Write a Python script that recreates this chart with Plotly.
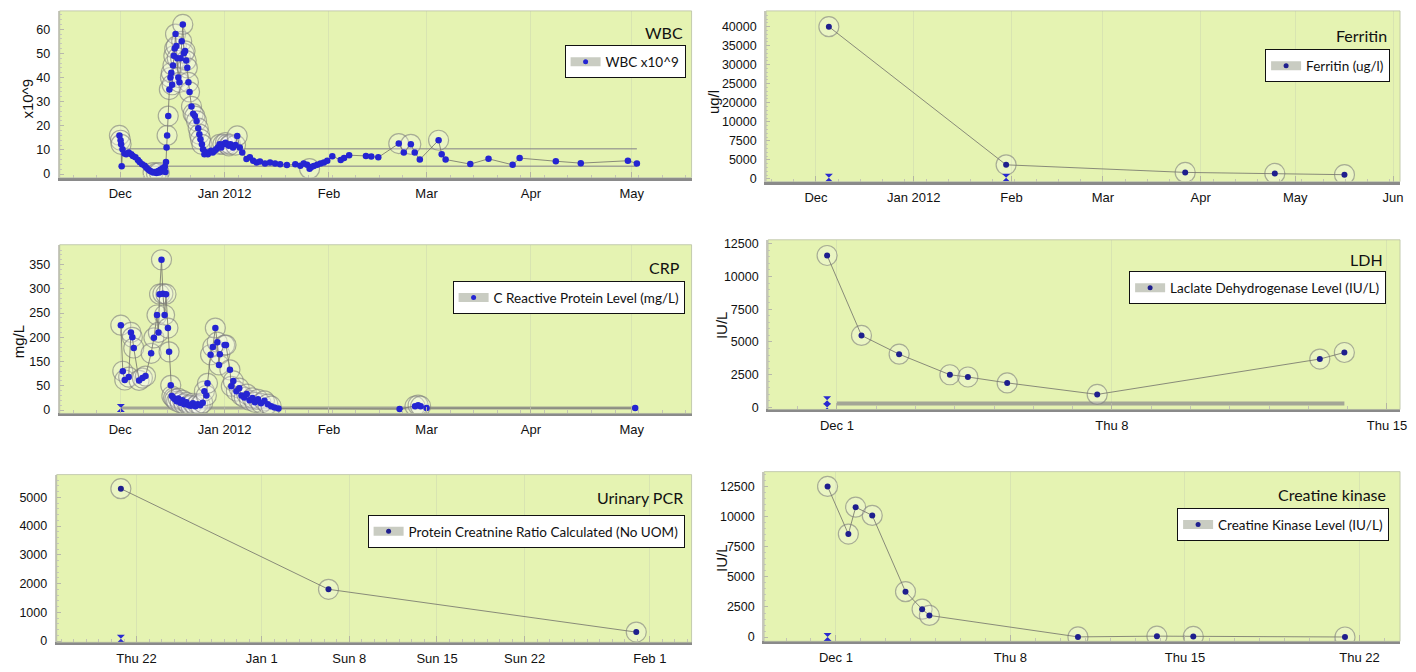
import plotly.graph_objects as go

W, H = 1416, 672

# ---------------- data ----------------
wbc_dates = [
    "2011-11-30 18:00", "2011-12-01 02:00", "2011-12-01 06:00", "2011-12-01 10:00", "2011-12-01 16:00",
    "2011-12-02 06:00", "2011-12-02 18:00", "2011-12-03 12:00", "2011-12-04 06:00", "2011-12-04 18:00",
    "2011-12-05 12:00", "2011-12-06 06:00", "2011-12-06 18:00", "2011-12-07 12:00", "2011-12-08 06:00",
    "2011-12-08 18:00", "2011-12-09 06:00", "2011-12-09 18:00", "2011-12-10 06:00", "2011-12-10 18:00",
    "2011-12-11 06:00", "2011-12-11 18:00", "2011-12-12 06:00", "2011-12-12 14:00", "2011-12-12 22:00",
    "2011-12-13 06:00", "2011-12-13 14:00", "2011-12-13 22:00", "2011-12-14 06:00", "2011-12-14 10:00",
    "2011-12-14 14:00", "2011-12-14 18:00", "2011-12-14 22:00", "2011-12-15 06:00", "2011-12-15 14:00",
    "2011-12-15 22:00", "2011-12-16 04:00", "2011-12-16 10:00", "2011-12-16 16:00", "2011-12-16 22:00",
    "2011-12-17 04:00", "2011-12-17 10:00", "2011-12-17 16:00", "2011-12-17 22:00", "2011-12-18 06:00",
    "2011-12-18 14:00", "2011-12-18 22:00", "2011-12-19 06:00", "2011-12-19 14:00", "2011-12-19 22:00",
    "2011-12-20 06:00", "2011-12-20 14:00", "2011-12-20 22:00", "2011-12-21 06:00", "2011-12-21 14:00",
    "2011-12-22 04:00", "2011-12-22 16:00", "2011-12-23 04:00", "2011-12-23 16:00", "2011-12-24 04:00",
    "2011-12-24 12:00", "2011-12-24 20:00", "2011-12-25 06:00", "2011-12-25 14:00", "2011-12-26 00:00",
    "2011-12-26 12:00", "2011-12-27 00:00", "2011-12-27 12:00", "2011-12-28 00:00", "2011-12-28 12:00",
    "2011-12-29 00:00", "2011-12-29 12:00", "2011-12-30 00:00", "2011-12-30 12:00", "2011-12-31 00:00",
    "2011-12-31 12:00", "2012-01-01 06:00", "2012-01-01 18:00", "2012-01-02 06:00", "2012-01-02 18:00",
    "2012-01-03 12:00", "2012-01-04 06:00", "2012-01-04 18:00", "2012-01-05 12:00", "2012-01-06 06:00",
    "2012-01-07 12:00", "2012-01-08 12:00", "2012-01-09 12:00", "2012-01-10 12:00", "2012-01-11 12:00",
    "2012-01-13 00:00", "2012-01-14 12:00", "2012-01-16 00:00", "2012-01-17 12:00", "2012-01-19 12:00",
    "2012-01-22 00:00", "2012-01-23 12:00", "2012-01-24 12:00", "2012-01-25 12:00", "2012-01-26 06:00",
    "2012-01-26 18:00", "2012-01-27 12:00", "2012-01-28 12:00", "2012-01-29 12:00", "2012-01-30 12:00",
    "2012-01-31 12:00", "2012-02-02 00:00", "2012-02-04 12:00", "2012-02-05 12:00", "2012-02-07 00:00",
    "2012-02-12 00:00", "2012-02-13 14:00", "2012-02-15 16:00", "2012-02-21 18:00", "2012-02-23 06:00",
    "2012-02-25 08:00", "2012-02-26 12:00", "2012-02-28 00:00", "2012-03-04 14:00", "2012-03-05 12:00",
    "2012-03-06 16:00", "2012-03-14 00:00", "2012-03-19 10:00", "2012-03-26 14:00", "2012-03-28 16:00",
    "2012-04-08 10:00", "2012-04-15 20:00", "2012-04-29 20:00", "2012-05-02 12:00",
]
wbc_values = [
    16.0, 14.0, 12.3, 3.2, 10.3,
    8.5, 8.2, 8.9, 8.2, 7.5,
    6.9, 5.8, 5.0, 4.0, 3.4,
    2.6, 2.0, 1.4, 1.0, 0.6,
    0.8, 0.4, 1.2, 0.6, 1.8,
    1.0, 2.4, 1.5, 3.0, 0.8,
    5.0, 11.0, 16.0, 24.0, 35.0,
    40.0, 42.0, 37.0, 45.0, 49.0,
    52.0, 58.0, 53.0, 48.0, 40.0,
    38.0, 48.0, 55.0, 62.0, 50.0,
    51.0, 47.0, 44.0, 38.0, 34.0,
    28.0, 25.0, 24.0, 22.0, 19.0,
    16.5, 14.4, 12.3, 10.3, 8.2,
    9.0, 8.2, 8.9, 9.6, 8.9,
    9.6, 10.3, 11.0, 12.3, 11.0,
    12.3, 13.0, 12.3, 11.7, 12.3,
    11.0, 12.0, 15.8, 11.0, 8.9,
    6.2, 6.9, 5.5, 4.8, 5.2,
    4.4, 4.8, 4.4, 4.0, 3.7,
    4.0, 3.4, 4.4, 3.8, 2.2,
    2.9, 3.3, 3.8, 4.4, 4.8,
    5.5, 7.4, 5.8, 6.6, 7.8,
    7.5, 7.3, 6.9, 12.6, 8.9,
    12.3, 8.9, 6.0, 14.0, 8.2,
    6.0, 4.1, 6.3, 3.8, 6.6,
    5.3, 4.5, 5.5, 4.4,
]
wbc_ref_dates = ["2011-11-30 12:00", "2012-05-02 12:00"]
wbc_ref_upper = [10.5, 10.5]
wbc_ref_lower = [3.2, 3.2]

ferritin_dates = ["2011-12-05 02:00", "2012-01-30 07:00", "2012-03-27 02:00", "2012-04-24 12:00", "2012-05-16 14:00"]
ferritin_values = [40000, 3700, 1710, 1450, 1110]
ferritin_sample_dates = ["2011-12-05 02:00", "2012-01-30 07:00"]
ferritin_sample_values = [300, 300]

crp_dates = [
    "2011-12-01 04:00", "2011-12-01 18:00", "2011-12-02 08:00", "2011-12-03 12:00", "2011-12-04 04:00",
    "2011-12-04 14:00", "2011-12-05 00:00", "2011-12-06 14:00", "2011-12-07 14:00", "2011-12-08 12:00",
    "2011-12-10 04:00", "2011-12-11 00:00", "2011-12-11 22:00", "2011-12-12 08:00", "2011-12-12 16:00",
    "2011-12-13 06:00", "2011-12-13 16:00", "2011-12-14 04:00", "2011-12-14 14:00", "2011-12-15 04:00",
    "2011-12-15 12:00", "2011-12-16 00:00", "2011-12-16 08:00", "2011-12-16 20:00", "2011-12-17 06:00",
    "2011-12-17 18:00", "2011-12-18 06:00", "2011-12-18 20:00", "2011-12-19 12:00", "2011-12-20 00:00",
    "2011-12-20 16:00", "2011-12-21 08:00", "2011-12-22 00:00", "2011-12-22 14:00", "2011-12-23 08:00",
    "2011-12-24 00:00", "2011-12-24 18:00", "2011-12-25 12:00", "2011-12-26 00:00", "2011-12-26 14:00",
    "2011-12-26 22:00", "2011-12-27 20:00", "2011-12-28 12:00", "2011-12-29 06:00", "2011-12-29 20:00",
    "2011-12-30 08:00", "2011-12-30 14:00", "2012-01-01 00:00", "2012-01-01 10:00", "2012-01-02 14:00",
    "2012-01-03 00:00", "2012-01-03 14:00", "2012-01-04 12:00", "2012-01-05 08:00", "2012-01-06 00:00",
    "2012-01-06 20:00", "2012-01-07 14:00", "2012-01-08 10:00", "2012-01-09 06:00", "2012-01-10 00:00",
    "2012-01-10 22:00", "2012-01-11 20:00", "2012-01-12 20:00", "2012-01-13 20:00", "2012-01-14 20:00",
    "2012-01-15 20:00", "2012-01-17 00:00", "2012-02-22 00:00", "2012-02-26 14:00", "2012-02-27 12:00",
    "2012-02-28 06:00", "2012-03-01 00:00", "2012-05-02 00:00",
]
crp_values = [
    175, 80, 62, 68, 160,
    150, 128, 61, 66, 70,
    117, 149, 196, 160, 239,
    310, 240, 196, 239, 169,
    120, 51, 29, 25, 22,
    18, 24, 15, 20, 12,
    16, 10, 9, 14, 8,
    12, 10, 15, 39, 30,
    55, 114, 130, 169, 140,
    93, 115, 134, 134, 83,
    49, 60, 39, 45, 30,
    26, 33, 20, 25, 16,
    22, 14, 19, 12, 8,
    5, 3, 2, 8, 10,
    8, 4, 4,
]
crp_ref_dates = ["2011-12-01 00:00", "2012-05-02 00:00"]
crp_ref_level = [4, 4]
crp_sample_dates = ["2011-12-01 04:00"]
crp_sample_values = [4]

ldh_dates = ["2011-11-30 18:00", "2011-12-01 15:00", "2011-12-02 14:00", "2011-12-03 21:00", "2011-12-04 08:00",
             "2011-12-05 08:00", "2011-12-07 15:00", "2011-12-13 07:00", "2011-12-13 22:00"]
ldh_values = [11600, 5500, 4070, 2500, 2330, 1880, 1000, 3700, 4200]
ldh_ref_dates = ["2011-12-01 00:00", "2011-12-13 22:00"]
ldh_ref_level = [300, 300]
ldh_sample_dates = ["2011-11-30 18:00", "2011-11-30 18:00"]
ldh_sample_values = [0, 550]

pcr_dates = ["2011-12-20 18:00", "2012-01-06 08:00", "2012-01-30 22:00"]
pcr_values = [5300, 1800, 310]
pcr_sample_dates = ["2011-12-20 18:00"]
pcr_sample_values = [80]

ck_dates = ["2011-11-30 16:00", "2011-12-01 12:00", "2011-12-01 19:00", "2011-12-02 11:00", "2011-12-03 19:00",
            "2011-12-04 11:00", "2011-12-04 18:00", "2011-12-10 17:00", "2011-12-13 21:00", "2011-12-15 08:00",
            "2011-12-21 10:00"]
ck_values = [12500, 8550, 10780, 10100, 3770, 2320, 1800, 20, 80, 60, 10]
ck_sample_dates = ["2011-11-30 16:00"]
ck_sample_values = [0]

# tick labels
month_ticks_a = ["2011-12-01", "2012-01-01", "2012-02-01", "2012-03-01", "2012-04-01", "2012-05-01"]
month_labels_a = ["Dec", "Jan 2012", "Feb", "Mar", "Apr", "May"]
month_ticks_b = ["2011-12-01", "2012-01-01", "2012-02-01", "2012-03-01", "2012-04-01", "2012-05-01", "2012-06-01"]
month_labels_b = ["Dec", "Jan 2012", "Feb", "Mar", "Apr", "May", "Jun"]
ldh_xticks = ["2011-12-01", "2011-12-08", "2011-12-15"]
ldh_xlabels = ["Dec 1", "Thu 8", "Thu 15"]
pcr_xticks = ["2011-12-22", "2012-01-01", "2012-01-08", "2012-01-15", "2012-01-22", "2012-02-01"]
pcr_xlabels = ["Thu 22", "Jan 1", "Sun 8", "Sun 15", "Sun 22", "Feb 1"]
ck_xticks = ["2011-12-01", "2011-12-08", "2011-12-15", "2011-12-22"]
ck_xlabels = ["Dec 1", "Thu 8", "Thu 15", "Thu 22"]

wbc_yticks = [0, 10, 20, 30, 40, 50, 60]
wbc_ylabels = ["0", "10", "20", "30", "40", "50", "60"]
ferritin_yticks = [0, 5000, 10000, 15000, 20000, 25000, 30000, 35000, 40000]
ferritin_ylabels = ["0", "5000", "7500", "10000", "20000", "25000", "30000", "35000", "40000"]
crp_yticks = [0, 50, 100, 150, 200, 250, 300]
crp_ylabels = ["0", "50", "150", "200", "250", "300", "350"]
iu_yticks = [0, 2500, 5000, 7500, 10000, 12500]
iu_ylabels = ["0", "2500", "5000", "7500", "10000", "12500"]
pcr_yticks = [0, 1000, 2000, 3000, 4000, 5000]
pcr_ylabels = ["0", "1000", "2000", "3000", "4000", "5000"]

# ---------------- style ----------------
BG = "rgb(229,243,178)"
LINE = "rgba(120,120,110,0.85)"
RING = "rgba(125,125,125,0.6)"
TICK_FAMILY = "Liberation Sans, Arial, sans-serif"
LEG_FAMILY = "Lato, Noto Sans, sans-serif"
DAY = 86400000

panels = [
    dict(title="WBC", leg="WBC x10^9", ytitle="x10^9", ytitle_pos=(28, 97),
         box=(60, 8, 695, 177), xr=["2011-11-13 00:00", "2012-05-18 18:00"], yr=[-1.5, 67.6],
         xt=(month_ticks_a, month_labels_a), yt=(wbc_yticks, wbc_ylabels), ymin=2, xmin=7 * DAY,
         x=wbc_dates, y=wbc_values, ring=lambda v: v > 11.5 or v < 0.7 or v == 2.2, dot="#2525d2", size=6.5,
         leg_pos=(689, 43), title_pos=(688, 30),
         refs=[(wbc_ref_dates, wbc_ref_upper, 1.5), (wbc_ref_dates, wbc_ref_lower, 1.5)],
         samples=None),
    dict(title="Ferritin", leg="Ferritin (ug/l)", ytitle="ug/l", ytitle_pos=(717, 100),
         box=(770, 8, 1407, 181), xr=["2011-11-15 05:00", "2012-06-03 05:00"], yr=[-700, 44150],
         xt=(month_ticks_b, month_labels_b), yt=(ferritin_yticks, ferritin_ylabels), ymin=1000, xmin=7 * DAY,
         x=ferritin_dates, y=ferritin_values, ring=lambda v: True, dot="#1f1f8e", size=6,
         leg_pos=(1397, 47), title_pos=(1396, 33), refs=[],
         samples=(ferritin_sample_dates, ferritin_sample_values)),
    dict(title="CRP", leg="C Reactive Protein Level (mg/L)", ytitle="mg/L", ytitle_pos=(19, 343),
         box=(60, 245, 695, 416), xr=["2011-11-13 00:00", "2012-05-18 18:00"], yr=[-7, 341],
         xt=(month_ticks_a, month_labels_a), yt=(crp_yticks, crp_ylabels), ymin=10, xmin=7 * DAY,
         x=crp_dates, y=crp_values, ring=lambda v: v > 6, dot="#2525d2", size=6.5,
         leg_pos=(688, 282), title_pos=(685, 268), refs=[(crp_ref_dates, crp_ref_level, 3)],
         samples=(crp_sample_dates, crp_sample_values)),
    dict(title="LDH", leg="Laclate Dehydrogenase Level (IU/L)", ytitle="IU/L", ytitle_pos=(725, 326),
         box=(772, 240, 1407, 412), xr=["2011-11-29 06:00", "2011-12-15 08:00"], yr=[-150, 12800],
         xt=(ldh_xticks, ldh_xlabels), yt=(iu_yticks, iu_ylabels), ymin=500, xmin=DAY,
         x=ldh_dates, y=ldh_values, ring=lambda v: True, dot="#1f1f8e", size=6,
         leg_pos=(1393, 272), title_pos=(1392, 260), refs=[(ldh_ref_dates, ldh_ref_level, 4)],
         samples=(ldh_sample_dates, ldh_sample_values)),
    dict(title="Urinary PCR", leg="Protein Creatnine Ratio Calculated (No UOM)", ytitle=None, ytitle_pos=None,
         box=(57, 478, 695, 648), xr=["2011-12-15 15:00", "2012-02-04 08:00"], yr=[-45, 5790],
         xt=(pcr_xticks, pcr_xlabels), yt=(pcr_yticks, pcr_ylabels), ymin=200, xmin=DAY,
         x=pcr_dates, y=pcr_values, ring=lambda v: True, dot="#1f1f8e", size=6,
         leg_pos=(688, 519), title_pos=(688, 501), refs=[],
         samples=(pcr_sample_dates, pcr_sample_values)),
    dict(title="Creatine kinase", leg="Creatine Kinase Level (IU/L)", ytitle="IU/L", ytitle_pos=(725, 562),
         box=(768, 475, 1407, 647), xr=["2011-11-28 03:00", "2011-12-23 15:00"], yr=[-350, 13730],
         xt=(ck_xticks, ck_xlabels), yt=(iu_yticks, iu_ylabels), ymin=500, xmin=DAY,
         x=ck_dates, y=ck_values, ring=lambda v: True, dot="#1f1f8e", size=6,
         leg_pos=(1396, 512), title_pos=(1395, 498), refs=[],
         samples=(ck_sample_dates, ck_sample_values)),
]


def fx(p):
    return p / W


def fy(p):
    return 1 - p / H


fig = go.Figure()
annotations = []
shapes = []
layout = dict(width=W, height=H, margin=dict(l=0, r=0, t=0, b=0),
              paper_bgcolor="white", plot_bgcolor=BG, showlegend=True)

for i, p in enumerate(panels, start=1):
    sfx = "" if i == 1 else str(i)
    xa, ya = "x" + sfx, "y" + sfx
    legkey = "legend" + sfx
    x0, y0, x1, y1 = p["box"]

    for rd, rv, rw in p["refs"]:
        fig.add_trace(go.Scatter(x=rd, y=rv, mode="lines", xaxis=xa, yaxis=ya, showlegend=False,
                                 hoverinfo="skip", line=dict(color="rgba(140,140,140,0.75)", width=rw)))

    rx = [d for d, v in zip(p["x"], p["y"]) if p["ring"](v)]
    ry = [v for v in p["y"] if p["ring"](v)]
    fig.add_trace(go.Scatter(x=rx, y=ry, mode="markers", xaxis=xa, yaxis=ya, showlegend=False,
                             hoverinfo="skip",
                             marker=dict(symbol="circle", size=20, color="rgba(255,255,255,0.22)",
                                         line=dict(color=RING, width=1.2))))

    fig.add_trace(go.Scatter(x=p["x"], y=p["y"], mode="lines+markers", xaxis=xa, yaxis=ya,
                             showlegend=False, name=p["leg"],
                             line=dict(color=LINE, width=1),
                             marker=dict(color=p["dot"], size=p["size"])))

    if p["samples"]:
        sd, sv = p["samples"]
        fig.add_trace(go.Scatter(x=sd, y=sv, mode="markers", xaxis=xa, yaxis=ya, showlegend=False,
                                 hoverinfo="skip",
                                 marker=dict(symbol="hourglass", size=8, color="#2a2ad0")))

    # legend entry
    fig.add_trace(go.Scatter(x=[None], y=[None], mode="lines+markers", xaxis=xa, yaxis=ya,
                             name=p["leg"], legend=legkey, showlegend=True,
                             line=dict(color="#c9ccc2", width=9),
                             marker=dict(color=p["dot"], size=5)))

    layout["xaxis" + sfx] = dict(
        domain=[fx(x0), fx(x1)], anchor=ya, type="date", range=p["xr"],
        tickmode="array", tickvals=p["xt"][0], ticktext=p["xt"][1],
        showline=True, linecolor="#8a8a8a", linewidth=3, mirror=False,
        ticks="inside", ticklen=6, tickcolor="#b4b4a4", tickwidth=1,
        minor=dict(ticks="inside", ticklen=3, tickcolor="#c4c4b4", dtick=p["xmin"], tick0="2011-12-01",
                   showgrid=False),
        showgrid=True, gridcolor="rgba(214,226,176,0.9)", gridwidth=1,
        zeroline=False, tickfont=dict(family=TICK_FAMILY, size=13, color="#111"),
        ticklabelstandoff=2, fixedrange=True,
    )
    layout["yaxis" + sfx] = dict(
        domain=[fy(y1), fy(y0)], anchor=xa, range=p["yr"],
        tickmode="array", tickvals=p["yt"][0], ticktext=p["yt"][1],
        showline=True, linecolor="#c8c8be", linewidth=2,
        ticks="inside", ticklen=4, tickcolor="#b8b8ac",
        minor=dict(ticks="inside", ticklen=2, tickcolor="#c8c8bc", dtick=p["ymin"], showgrid=False),
        showgrid=False, zeroline=False,
        tickfont=dict(family=TICK_FAMILY, size=12.5, color="#111"),
        ticklabelstandoff=5, fixedrange=True,
    )
    lx, ly = p["leg_pos"]
    layout[legkey] = dict(x=fx(lx), y=fy(ly), xanchor="right", yanchor="top", xref="paper", yref="paper",
                          bgcolor="white", bordercolor="#111", borderwidth=1,
                          font=dict(family=LEG_FAMILY, size=13.5, color="#111"),
                          itemwidth=30, tracegroupgap=0)

    tx, ty = p["title_pos"]
    annotations.append(dict(x=fx(tx), y=fy(ty), xref="paper", yref="paper", text=p["title"],
                            showarrow=False, xanchor="right", yanchor="middle",
                            font=dict(family=LEG_FAMILY, size=16, color="#111")))
    if p["ytitle"]:
        ax_, ay_ = p["ytitle_pos"]
        annotations.append(dict(x=fx(ax_), y=fy(ay_), xref="paper", yref="paper", text=p["ytitle"],
                                showarrow=False, textangle=-90, xanchor="center", yanchor="middle",
                                font=dict(family=TICK_FAMILY, size=15, color="#111")))
    shapes.append(dict(type="rect", xref="paper", yref="paper", x0=fx(x0), x1=fx(x1), y0=fy(y1), y1=fy(y0),
                       line=dict(color="rgba(185,192,165,0.8)", width=1), layer="above"))

layout["annotations"] = annotations
layout["shapes"] = shapes
fig.update_layout(**layout)

fig.write_html("out.html", config={"displayModeBar": False},
               post_script="document.body.style.margin='0px';document.body.style.padding='0px';")
